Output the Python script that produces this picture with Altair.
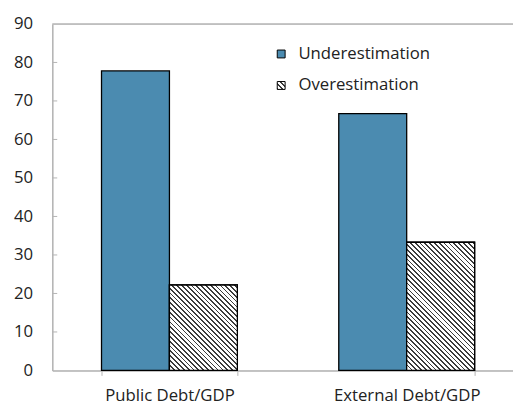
import altair as alt
import pandas as pd

# ---- data ----
categories = ["Public Debt/GDP", "External Debt/GDP"]
series = ["Underestimation", "Overestimation"]
underestimation = [77.8, 66.7]
overestimation = [22.2, 33.3]
y_ticks = [0, 10, 20, 30, 40, 50, 60, 70, 80, 90]

rows = []
for i, c in enumerate(categories):
    rows.append({"category": c, "series": series[0], "value": underestimation[i]})
    rows.append({"category": c, "series": series[1], "value": overestimation[i]})
df = pd.DataFrame(rows)
tick_df = pd.DataFrame({"value": y_ticks[1:-1]})
top_df = pd.DataFrame({"value": [y_ticks[-1]]})

# ---- styling ----
W, H = 468, 352
Y_MAX = 90
BLUE = "#4b8bb0"
GRAY = "#b4b4b4"
INK = "#222222"
FONT = "Open Sans"
FS = 17
BAR_W = 69


def hatch_stops(n, dark=0.36, ink="#3c3c3c", paper="#ffffff"):
    stops = []
    j = 0
    while j / n < 1:
        a = min(j / n, 1.0)
        b = min((j + dark) / n, 1.0)
        c = min((j + 1) / n, 1.0)
        stops += [(a, ink), (b, ink), (b, paper), (c, paper)]
        j += 1
    return stops


def hatch_gradient(w, h, period=4.9):
    k = (w + h) / (w * w + h * h)
    n = (w + h) / period
    return {
        "gradient": "linear",
        "x1": 0, "y1": 1, "x2": w * k, "y2": 1 - h * k,
        "stops": [{"offset": o, "color": col} for o, col in hatch_stops(n)],
    }


legend_stops = ",".join(
    "{offset:%.4f,color:'%s'}" % (o, col) for o, col in hatch_stops(3.2, dark=0.4)
)
legend_grad_expr = "{gradient:'linear',x1:0,y1:1,x2:1,y2:0,stops:[%s]}" % legend_stops

x_enc = alt.X(
    "category:N",
    sort=categories,
    title=None,
    scale=alt.Scale(paddingInner=0.4274, paddingOuter=0.1846, align=0.5618),
    axis=alt.Axis(
        title=None, ticks=True, tickBand="extent", tickSize=5, tickColor=GRAY,
        tickWidth=1, labelAngle=0, labelPadding=13, labels=True,
        labelFont=FONT, labelFontSize=FS, labelColor=INK,
        domainColor=GRAY, domainWidth=1.5, grid=False,
    ),
)
xoff_enc = alt.XOffset("series:N", sort=series, scale=alt.Scale(domain=series, paddingInner=0, paddingOuter=0))
y_enc = alt.Y(
    "value:Q",
    title=None,
    scale=alt.Scale(domain=[0, Y_MAX], nice=False),
    axis=alt.Axis(
        title=None, values=y_ticks, ticks=False, labelPadding=20, labels=True,
        labelFont=FONT, labelFontSize=FS, labelColor=INK,
        domainColor=GRAY, domainWidth=1.5, grid=False,
    ),
)

base = alt.Chart(df).mark_bar(stroke="black", strokeWidth=1.3).encode(
    x=x_enc,
    xOffset=xoff_enc,
    y=y_enc,
    color=alt.Color(
        "series:N",
        sort=series,
        scale=alt.Scale(domain=series, range=[BLUE, alt.ExprRef(legend_grad_expr)]),
        legend=alt.Legend(
            title=None, orient="none", legendX=224, legendY=22, padding=0,
            symbolType="square", symbolSize=64, symbolStrokeColor="black",
            symbolStrokeWidth=1, labelFont=FONT, labelFontSize=FS,
            labelColor=INK, labelOffset=9, rowPadding=14,
        ),
    ),
)

overlays = []
for i, c in enumerate(categories):
    h = overestimation[i] * H / Y_MAX
    overlays.append(
        alt.Chart(df)
        .transform_filter((alt.datum.category == c) & (alt.datum.series == series[1]))
        .mark_bar(stroke="black", strokeWidth=1.3, fill=hatch_gradient(BAR_W, h))
        .encode(x=x_enc, xOffset=xoff_enc, y=y_enc)
    )

y_tick_marks = alt.Chart(tick_df).mark_rule(color=GRAY, strokeWidth=1).encode(
    y=y_enc, x=alt.value(0), x2=alt.value(5)
)

top_border = alt.Chart(top_df).mark_rule(color=GRAY, strokeWidth=1.5).encode(
    y=y_enc
)

chart = (
    alt.layer(base, *overlays, y_tick_marks, top_border)
    .properties(
        width=W, height=H,
        autosize=alt.AutoSizeParams(type="none"),
        padding={"left": 45, "top": 13, "right": 0, "bottom": 39},
    )
    .configure_view(strokeWidth=0)
    .configure(background="white")
)

chart.save("out.html", embed_options={"renderer": "svg", "actions": False})
